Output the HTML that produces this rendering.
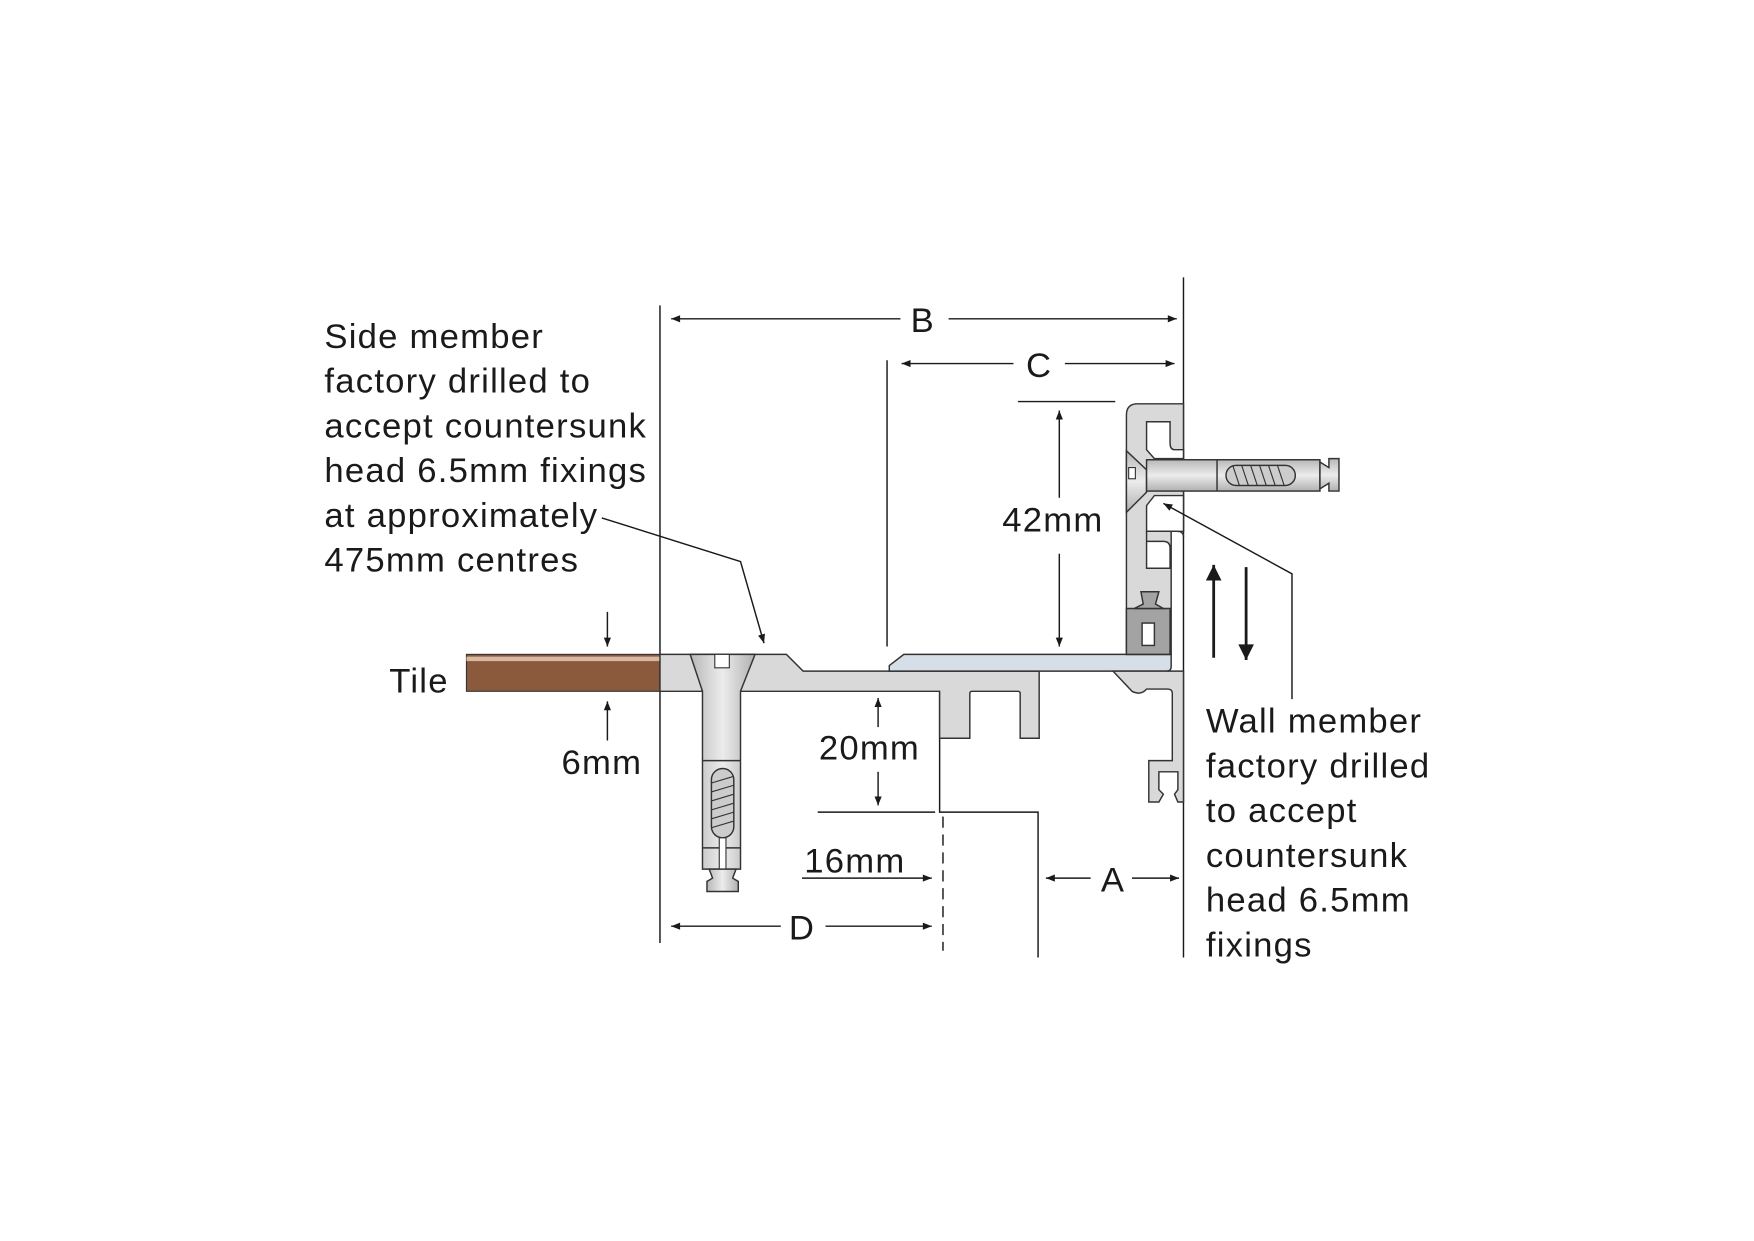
<!DOCTYPE html>
<html><head><meta charset="utf-8"><style>
html,body{margin:0;padding:0;background:#fff}
svg{display:block}
text{font-family:"Liberation Sans",sans-serif;fill:#1a1a1a}
</style></head><body>
<svg width="1754" height="1241" viewBox="0 0 1754 1241" xmlns="http://www.w3.org/2000/svg">
<defs>
<linearGradient id="mh" x1="0" x2="1" y1="0" y2="0">
<stop offset="0" stop-color="#b8b8b8"/><stop offset="0.5" stop-color="#ececec"/><stop offset="1" stop-color="#b0b0b0"/></linearGradient>
<linearGradient id="mv" x1="0" x2="0" y1="0" y2="1">
<stop offset="0" stop-color="#b8b8b8"/><stop offset="0.5" stop-color="#ececec"/><stop offset="1" stop-color="#b0b0b0"/></linearGradient>
<marker id="ar" viewBox="0 0 10 10" refX="10" refY="5" markerWidth="12" markerHeight="8" markerUnits="userSpaceOnUse" orient="auto"><path d="M0,1 L10,5 L0,9 z" fill="#1a1a1a"/></marker>
<marker id="ab" viewBox="0 0 10 10" refX="10" refY="5" markerWidth="18" markerHeight="14" markerUnits="userSpaceOnUse" orient="auto"><path d="M0,0 L10,5 L0,10 z" fill="#1a1a1a"/></marker>
</defs>
<g transform="scale(1.1186)">
<g stroke="#1a1a1a" stroke-width="1.3" fill="none">
<line x1="590" y1="273" x2="590" y2="843"/>
<line x1="1058" y1="248" x2="1058" y2="856"/>
<line x1="793" y1="322" x2="793" y2="578"/>
<line x1="843" y1="730" x2="843" y2="850" stroke-dasharray="10,6"/>
<polyline points="840,618 840,726 928,726 928,856"/>
<line x1="910" y1="359" x2="997" y2="359"/>
<line x1="731" y1="726" x2="836" y2="726"/>
<line x1="805" y1="285" x2="600" y2="285" marker-end="url(#ar)"/>
<line x1="848" y1="285" x2="1052" y2="285" marker-end="url(#ar)"/>
<line x1="906" y1="325" x2="806" y2="325" marker-end="url(#ar)"/>
<line x1="952" y1="325" x2="1050" y2="325" marker-end="url(#ar)"/>
<line x1="947" y1="445" x2="947" y2="367" marker-end="url(#ar)"/>
<line x1="947" y1="495" x2="947" y2="578" marker-end="url(#ar)"/>
<line x1="543" y1="547" x2="543" y2="578" marker-end="url(#ar)"/>
<line x1="543" y1="662" x2="543" y2="627" marker-end="url(#ar)"/>
<line x1="785" y1="650" x2="785" y2="624" marker-end="url(#ar)"/>
<line x1="785" y1="690" x2="785" y2="720" marker-end="url(#ar)"/>
<line x1="717" y1="785" x2="833" y2="785" marker-end="url(#ar)"/>
<line x1="975" y1="785" x2="935" y2="785" marker-end="url(#ar)"/>
<line x1="1012" y1="785" x2="1054" y2="785" marker-end="url(#ar)"/>
<line x1="698" y1="828" x2="600" y2="828" marker-end="url(#ar)"/>
<line x1="738" y1="828" x2="833" y2="828" marker-end="url(#ar)"/>
<line x1="1085" y1="588" x2="1085" y2="505" stroke-width="2.5" marker-end="url(#ab)"/>
<line x1="1114" y1="507" x2="1114" y2="590" stroke-width="2.5" marker-end="url(#ab)"/>
</g>
<rect x="417" y="585" width="173" height="33" fill="#8b5a3c" stroke="#333" stroke-width="1"/>
<rect x="417" y="587" width="173" height="4" fill="#d8b8a0"/>
<path d="M590,585 H703 L718,600 H929 V660 H912 V620 Q912,618 910,618 H869 Q867,618 867,620 V660 H840 V618 H590 Z" fill="#d9d9d9" stroke="#333" stroke-width="1.3"/>
<path d="M795,595 L808,585 H1047 V596 Q1047,600 1043,600 H795 Z" fill="#d6dee8" stroke="#333" stroke-width="1.3"/>
<path d="M1058,361 H1017 Q1007,361 1007,371 V585 H1047 V475 H1058 Z" fill="#d9d9d9" stroke="#333" stroke-width="1.3"/>
<path d="M1058,402 H1050 Q1046,402 1046,396 V377 H1025 V402 L1032,410 H1058 Z" fill="#fff" stroke="#333" stroke-width="1.3"/>
<path d="M1058,443 H1032 L1025,452 V475 H1058 Z" fill="#fff" stroke="#333" stroke-width="1.3"/>
<path d="M1025,475 V508 H1046 V490 Q1046,484 1040,484 H1025 Z" fill="#fff" stroke="#333" stroke-width="1.3"/>
<path d="M1025,475 H1052 Q1058,475 1058,480" fill="none" stroke="#333" stroke-width="1.3"/>
<path d="M1007,544 H1046 V585 H1007 Z" fill="#a3a3a3" stroke="#333" stroke-width="1.3"/>
<path d="M1020,529 H1036 L1033,540 L1040,544 H1014 L1022,540 Z" fill="#a3a3a3" stroke="#333" stroke-width="1.3"/>
<rect x="1021" y="557" width="11" height="20" fill="#fff" stroke="#333" stroke-width="1.3"/>
<path d="M1058,600 V717 H1053 L1050,710 L1053,706 V690 H1036 V706 L1040,710 L1036,717 H1027 V680 H1048 V620 Q1048,616 1044,616 H1025 Q1020,622 1012,618 L995,600 Z" fill="#d9d9d9" stroke="#333" stroke-width="1.3"/>
<path d="M1007,403 L1025,420 V440 L1007,458 Z" fill="url(#mv)" stroke="#333" stroke-width="1.3"/>
<rect x="1009" y="418" width="6" height="10" fill="#fff" stroke="#333"/>
<rect x="1025" y="411" width="155" height="28" fill="url(#mv)" stroke="#333" stroke-width="1.3"/>
<line x1="1088" y1="411" x2="1088" y2="439" stroke="#333" stroke-width="1.3"/>
<rect x="1096" y="416" width="62" height="18" rx="9" fill="#ccc" stroke="#333" stroke-width="1.3"/>
<g stroke="#333" stroke-width="1"><line x1="1102" y1="416" x2="1108" y2="434"/><line x1="1110" y1="416" x2="1116" y2="434"/><line x1="1118" y1="416" x2="1124" y2="434"/><line x1="1126" y1="416" x2="1132" y2="434"/><line x1="1134" y1="416" x2="1140" y2="434"/><line x1="1142" y1="416" x2="1148" y2="434"/></g>
<path d="M1180,413 L1188,418 V410 H1197 V439 H1188 V432 L1180,437 Z" fill="url(#mv)" stroke="#333" stroke-width="1.3"/>
<path d="M617,585 H675 L662,618 V777 H628 V618 Z" fill="url(#mh)" stroke="#333" stroke-width="1.3"/>
<rect x="639" y="585" width="13" height="12" fill="#fff" stroke="#333"/>
<line x1="628" y1="680" x2="662" y2="680" stroke="#333" stroke-width="1.3"/>
<line x1="628" y1="758" x2="662" y2="758" stroke="#333" stroke-width="1.3"/>
<rect x="636" y="687" width="20" height="62" rx="10" fill="#ccc" stroke="#333" stroke-width="1.3"/>
<g stroke="#333" stroke-width="1"><line x1="636" y1="700" x2="656" y2="694"/><line x1="636" y1="708" x2="656" y2="702"/><line x1="636" y1="716" x2="656" y2="710"/><line x1="636" y1="724" x2="656" y2="718"/><line x1="636" y1="732" x2="656" y2="726"/><line x1="636" y1="740" x2="656" y2="734"/></g>
<rect x="643" y="749" width="6" height="28" fill="#fff" stroke="#333"/>
<path d="M634,777 H658 L655,785 L660,788 V797 H632 V788 L637,785 Z" fill="url(#mh)" stroke="#333" stroke-width="1.3"/>
<g stroke="#1a1a1a" stroke-width="1.3" fill="none">
<polyline points="538,463 662,502 683,575" marker-end="url(#ar)"/>
<polyline points="1155,625 1155,513 1040,450" marker-end="url(#ar)"/>
</g>
<g font-size="31" letter-spacing="1.1">
<text x="290" y="311">Side member</text>
<text x="290" y="351">factory drilled to</text>
<text x="290" y="391">accept countersunk</text>
<text x="290" y="431">head 6.5mm fixings</text>
<text x="290" y="471">at approximately</text>
<text x="290" y="511">475mm centres</text>
<text x="1078" y="655">Wall member</text>
<text x="1078" y="695">factory drilled</text>
<text x="1078" y="735">to accept</text>
<text x="1078" y="775">countersunk</text>
<text x="1078" y="815">head 6.5mm</text>
<text x="1078" y="855">fixings</text>
<text x="348" y="619">Tile</text>
<text x="502" y="692">6mm</text>
<text x="732" y="679">20mm</text>
<text x="719" y="780">16mm</text>
<text x="896" y="475">42mm</text>
<text x="825" y="297" text-anchor="middle">B</text>
<text x="929" y="337" text-anchor="middle">C</text>
<text x="995" y="797" text-anchor="middle">A</text>
<text x="717" y="840" text-anchor="middle">D</text>
</g>
</g>
</svg>
</body></html>
